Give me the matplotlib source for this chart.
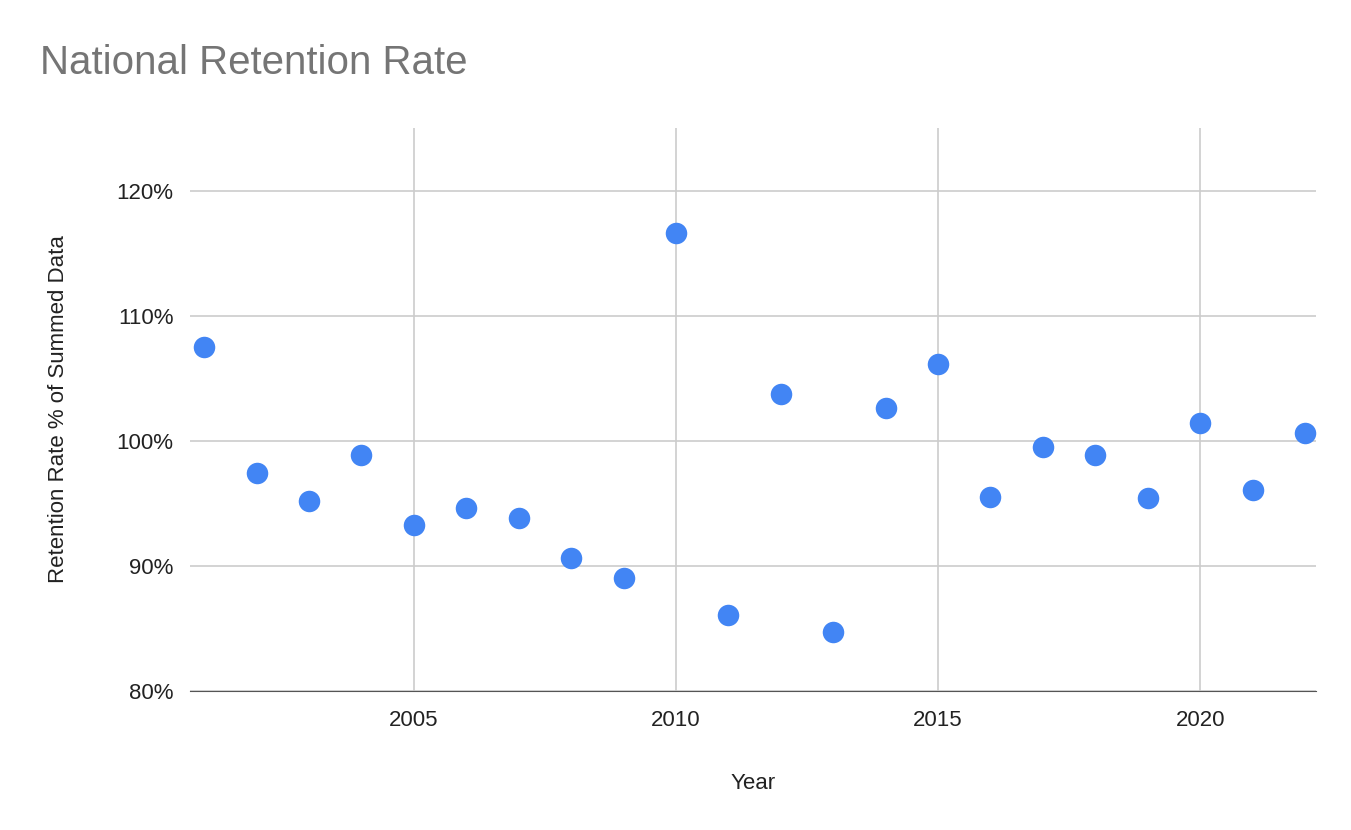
import matplotlib
matplotlib.use("Agg")
import matplotlib.pyplot as plt

years = list(range(2001, 2023))
rates = [107.5, 97.4, 95.2, 98.9, 93.3, 94.6, 93.8, 90.6, 89.0, 116.6, 86.1,
         103.7, 84.7, 102.6, 106.1, 95.5, 99.5, 98.9, 95.4, 101.4, 96.1, 100.6]
xticks = [2005, 2010, 2015, 2020]
yticks = [80, 90, 100, 110, 120]

plt.rcParams["font.family"] = "Liberation Sans"
fig = plt.figure(figsize=(13.51, 8.3), dpi=100)
ax = fig.add_axes([190/1351, 1-691/830, (1316-190)/1351, (691-128)/830])
ax.scatter(years, rates, s=240, color="#4285F4", zorder=3, linewidths=0)
ax.set_xlim(2000.73, 2022.21)
ax.set_ylim(80, 125)
ax.set_xticks(xticks)
ax.set_yticks(yticks)
ax.set_yticklabels([f"{v}%" for v in yticks])
ax.grid(True, color="#cccccc", linewidth=1.2)
for s in ["top", "right", "left"]:
    ax.spines[s].set_visible(False)
ax.spines["bottom"].set_color("#555555")
ax.tick_params(axis="y", length=0, labelsize=16, colors="#222222", pad=12)
ax.tick_params(axis="x", length=0, labelsize=16, colors="#222222", pad=14)
ax.set_xlabel("Year", fontsize=16, color="#222222", labelpad=30)
ax.set_ylabel("Retention Rate % of Summed Data", fontsize=16, color="#222222", labelpad=34)
fig.text(40/1351, 1-63/830, "National Retention Rate", fontsize=29, color="#757575", va="center")
fig.savefig("out.png", dpi=100)
